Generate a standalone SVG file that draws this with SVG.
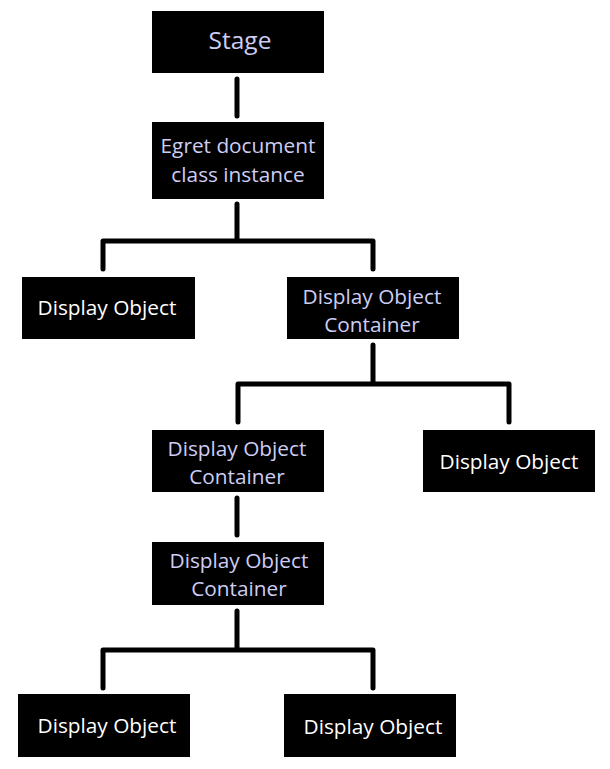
<svg xmlns="http://www.w3.org/2000/svg" width="610" height="769" viewBox="0 0 610 769">
<style>
.box{fill:#000}
.t{font-family:"Open Sans","Noto Sans",sans-serif;font-size:20.8px;text-anchor:middle}
.w{fill:#ffffff}
.l{fill:#cdcdf5}
.c{fill:none;stroke:#000;stroke-width:5;stroke-linecap:round;stroke-linejoin:round}
</style>
<rect width="610" height="769" fill="#fff"/>
<g id="connectors">
<path class="c" d="M237 79V116"/>
<path class="c" d="M237 204V241M103 269V241H373V269"/>
<path class="c" d="M373 345V384M238 422V384H509V422"/>
<path class="c" d="M237 498V535"/>
<path class="c" d="M237 611V650M103 688V650H373V688"/>
</g>
<g id="stage"><rect class="box" x="152" y="11" width="172" height="62"/><text class="t l" x="240" y="49" style="font-size:24.5px">Stage</text></g>
<g id="egret"><rect class="box" x="152" y="122" width="172" height="77"/><text class="t l" x="238" y="153">Egret document</text><text class="t l" x="238" y="182">class instance</text></g>
<g id="do1"><rect class="box" x="22" y="277" width="173" height="62"/><text class="t w" x="107" y="315">Display Object</text></g>
<g id="doc1"><rect class="box" x="287" y="277" width="172" height="62"/><text class="t l" x="372" y="304">Display Object</text><text class="t l" x="372" y="332">Container</text></g>
<g id="doc2"><rect class="box" x="152" y="430" width="172" height="62"/><text class="t l" x="237" y="456">Display Object</text><text class="t l" x="237" y="484">Container</text></g>
<g id="do2"><rect class="box" x="423" y="430" width="172" height="62"/><text class="t w" x="509" y="469">Display Object</text></g>
<g id="doc3"><rect class="box" x="152" y="542" width="172" height="63"/><text class="t l" x="239" y="568">Display Object</text><text class="t l" x="239" y="596">Container</text></g>
<g id="do3"><rect class="box" x="18" y="694" width="172" height="63"/><text class="t w" x="107" y="733">Display Object</text></g>
<g id="do4"><rect class="box" x="284" y="694" width="172" height="63"/><text class="t w" x="373" y="734">Display Object</text></g>
</svg>
